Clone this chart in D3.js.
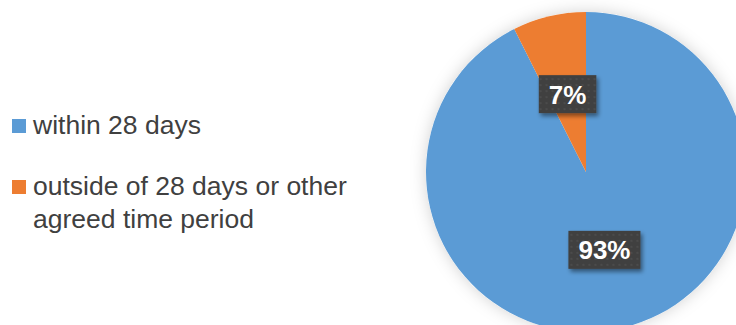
<!DOCTYPE html>
<html>
<head>
<meta charset="utf-8">
<script src="https://cdn.jsdelivr.net/npm/d3@7"></script>
<style>
  body { margin: 0; background: #fff; }
  svg { display: block; font-family: "Liberation Sans", Arial, sans-serif; }
</style>
</head>
<body>
<svg width="736" height="325"></svg>
<script>
const categories = ['within 28 days', 'outside of 28 days or other agreed time period'];
const legendLines = [['within 28 days'], ['outside of 28 days or other', 'agreed time period']];
const values = [92.6, 7.4];
const pctLabels = ['93%', '7%'];
const colors = ['#5b9bd5', '#ed7d31'];

const svg = d3.select('svg');
const defs = svg.append('defs');

// soft glow around the pie
const glow = defs.append('filter').attr('id', 'glow')
    .attr('x', '-20%').attr('y', '-20%').attr('width', '140%').attr('height', '140%');
glow.append('feDropShadow').attr('dx', 0).attr('dy', 0)
    .attr('stdDeviation', 8).attr('flood-color', '#000').attr('flood-opacity', 0.18);

// shadow under the label boxes
const boxShadow = defs.append('filter').attr('id', 'boxShadow')
    .attr('x', '-30%').attr('y', '-30%').attr('width', '160%').attr('height', '170%');
boxShadow.append('feDropShadow').attr('dx', 2).attr('dy', 3)
    .attr('stdDeviation', 2).attr('flood-color', '#000').attr('flood-opacity', 0.45);

// dotted texture for the label boxes
const pat = defs.append('pattern').attr('id', 'dots')
    .attr('width', 6).attr('height', 6).attr('patternUnits', 'userSpaceOnUse');
pat.append('rect').attr('width', 6).attr('height', 6).attr('fill', '#404040');
pat.append('circle').attr('cx', 3).attr('cy', 3).attr('r', 1).attr('fill', '#4e4e4e');

const cx = 586, cy = 172, radius = 160;

const pie = d3.pie().sort(null).value(d => d);
const arc = d3.arc().innerRadius(0).outerRadius(radius);
const labelArc = d3.arc().innerRadius(radius * 0.5).outerRadius(radius * 0.5);

const g = svg.append('g').attr('transform', `translate(${cx},${cy})`);

g.append('circle').attr('r', radius).attr('fill', '#fff').attr('filter', 'url(#glow)');

const arcs = pie(values);
g.selectAll('path.slice')
    .data(arcs)
    .enter()
    .append('path')
    .attr('class', 'slice')
    .attr('d', arc)
    .attr('fill', (d, i) => colors[i]);

// data labels
const lab = g.selectAll('g.lab')
    .data(arcs)
    .enter()
    .append('g')
    .attr('class', 'lab')
    .attr('transform', d => {
        const c = labelArc.centroid(d);
        return `translate(${c[0]},${c[1]})`;
    });

lab.append('text')
    .attr('text-anchor', 'middle')
    .attr('dy', '0.36em')
    .attr('fill', '#fff')
    .attr('font-weight', 'bold')
    .attr('font-size', 26)
    .text((d, i) => pctLabels[i])
    .each(function () {
        const bb = this.getBBox();
        d3.select(this.parentNode).insert('rect', 'text')
            .attr('x', bb.x - 10)
            .attr('y', -19)
            .attr('width', bb.width + 20)
            .attr('height', 38)
            .attr('fill', 'url(#dots)')
            .attr('filter', 'url(#boxShadow)');
    });

// legend
const legend = svg.append('g').attr('transform', 'translate(12,0)');
const rows = [134, 195];
const item = legend.selectAll('g.item')
    .data(categories)
    .enter()
    .append('g')
    .attr('class', 'item')
    .attr('transform', (d, i) => `translate(0,${rows[i]})`);

item.append('rect')
    .attr('x', 0).attr('y', -15)
    .attr('width', 14).attr('height', 14)
    .attr('fill', (d, i) => colors[i]);

item.append('text')
    .attr('x', 21)
    .attr('fill', '#404040')
    .attr('font-size', 26.5)
    .selectAll('tspan')
    .data((d, i) => legendLines[i])
    .enter()
    .append('tspan')
    .attr('x', 21)
    .attr('dy', (d, j) => j === 0 ? 0 : 33)
    .text(d => d);
</script>
</body>
</html>
